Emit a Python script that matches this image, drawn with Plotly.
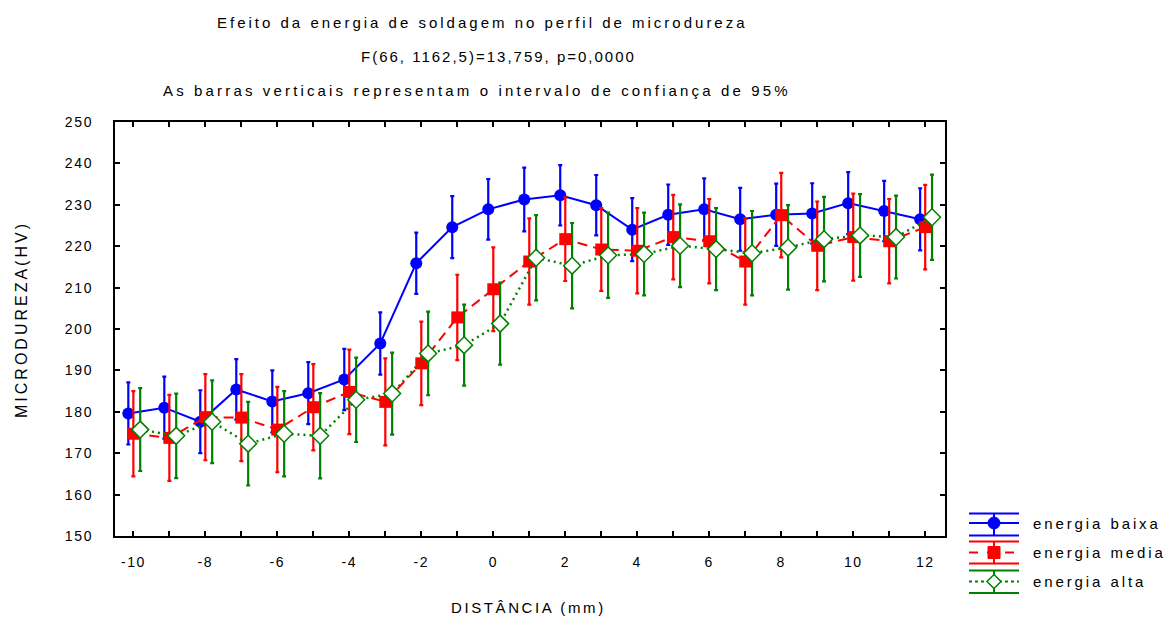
import plotly.graph_objects as go

# ---------------- data ----------------
distance = list(range(-10, 13))
series_names = ["energia baixa", "energia media", "energia alta"]
energia_baixa = [179.6, 181.0, 177.6, 185.4, 182.5, 184.5, 187.8, 196.5, 215.9, 224.6, 228.9, 231.3,
                 232.3, 229.9, 224.0, 227.6, 228.9, 226.5, 227.6, 227.9, 230.4, 228.5, 226.5]
baixa_ci = [7.5, 7.5, 7.6, 7.3, 7.5, 7.5, 7.4, 7.5, 7.4, 7.5, 7.3, 7.7,
            7.3, 7.3, 7.6, 7.3, 7.5, 7.6, 7.5, 7.3, 7.5, 7.3, 7.5]
energia_media = [174.7, 173.7, 178.7, 178.6, 175.7, 181.1, 184.8, 182.4, 191.7, 202.8, 209.6, 216.3,
                 221.7, 219.2, 218.9, 222.2, 221.2, 216.3, 227.5, 220.1, 222.2, 221.2, 224.6]
media_ci = [10.3, 10.4, 10.4, 10.5, 10.3, 10.4, 10.2, 10.5, 10.1, 10.3, 10.1, 10.4,
            10.1, 10.0, 10.3, 10.2, 10.2, 10.4, 10.2, 10.7, 10.5, 10.2, 10.2]
energia_alta = [175.7, 174.2, 177.6, 172.3, 174.7, 174.2, 182.9, 184.4, 194.1, 196.1, 201.3, 217.2,
                215.3, 217.8, 218.1, 220.1, 219.3, 218.3, 219.7, 221.7, 222.6, 222.2, 227.0]
alta_ci = [10.0, 10.2, 10.0, 10.1, 10.3, 10.3, 10.2, 9.9, 10.1, 9.8, 9.9, 10.3,
           10.3, 10.3, 10.0, 10.0, 9.9, 10.2, 10.2, 10.2, 10.0, 10.0, 10.3]
x_tick_vals = list(range(-10, 13, 2))
y_tick_vals = list(range(150, 251, 10))

# ---------------- style ----------------
FONT = "Liberation Sans, Arial, sans-serif"
W_FIG, H_FIG = 1165, 617
L, R, T, B = 115, 945, 122, 536
PW, PH = R - L, B - T
BLUE, RED, GREEN = "#0000FF", "#FF0000", "#008000"
dodge = [-0.14, 0.0, 0.19]


def spaced(txt, ls):
    return f'<span style="letter-spacing:{ls}px">{txt}</span>'


def px(xp):
    return (xp - L) / PW


def py(yp):
    return 1 - (yp - T) / PH


fig = go.Figure()

specs = [
    (energia_baixa, baixa_ci, BLUE, "solid", dict(symbol="circle", size=12, color=BLUE), 2),
    (energia_media, media_ci, RED, "10px,6px", dict(symbol="square", size=12, color=RED), 2),
    (energia_alta, alta_ci, GREEN, "2px,4px",
     dict(symbol="diamond", size=13, color="white", line=dict(color=GREEN, width=1.5)), 2.5),
]
for i, (vals, ci, col, dash, mk, lw) in enumerate(specs):
    fig.add_trace(go.Scatter(
        x=[d + dodge[i] for d in distance], y=vals, mode="lines+markers",
        name=series_names[i], showlegend=False,
        line=dict(color=col, width=lw, dash=dash), marker=mk,
        error_y=dict(type="data", array=ci, visible=True, color=col, thickness=2.2, width=2),
    ))

fig.update_xaxes(
    range=[-10.51, 12.55], tickmode="array", tickvals=x_tick_vals,
    ticktext=[spaced(str(v), 1.5) for v in x_tick_vals],
    ticks="inside", ticklen=5, tickwidth=2, tickcolor="black",
    minor=dict(dtick=1, tick0=0, ticks="inside", ticklen=5, tickwidth=2, tickcolor="black"),
    showline=True, linecolor="black", linewidth=2, mirror="ticks",
    showgrid=False, zeroline=False, tickfont=dict(family=FONT, size=14, color="black"),
    ticklabelstandoff=12,
)
fig.update_yaxes(
    range=[150, 250], tickmode="array", tickvals=y_tick_vals,
    ticktext=[spaced(str(v), 1.7) for v in y_tick_vals],
    ticks="inside", ticklen=5, tickwidth=2, tickcolor="black",
    showline=True, linecolor="black", linewidth=2, mirror="ticks",
    showgrid=False, zeroline=False, tickfont=dict(family=FONT, size=14, color="black"),
    ticklabelstandoff=17,
)

annotations = [
    dict(text=spaced("Efeito da energia de soldagem no perfil de microdureza", 3.0), x=px(482), y=py(22)),
    dict(text=spaced("F(66, 1162,5)=13,759, p=0,0000", 2.0), x=px(498), y=py(57)),
    dict(text=spaced("As barras verticais representam o intervalo de confiança de 95%", 3.15), x=px(477), y=py(90)),
    dict(text=spaced("DISTÂNCIA (mm)", 2.6), x=px(528), y=py(607)),
]
for a in annotations:
    fig.add_annotation(xref="paper", yref="paper", showarrow=False, xanchor="center", yanchor="middle",
                       font=dict(family=FONT, size=15, color="black"), **a)
fig.add_annotation(xref="paper", yref="paper", showarrow=False, textangle=-90,
                   x=px(21), y=py(320), xanchor="center", yanchor="middle",
                   text=spaced("MICRODUREZA(HV)", 3.0), font=dict(family=FONT, size=16, color="black"))

# ---------------- manual legend ----------------
lx0, lx1, lxc = 969, 1019, 994
rows = [(513.5, 523, 535.5), (541.5, 552.5, 563.5), (570.5, 581.5, 593)]
dashes = ["solid", "dash", "dot"]
cols = [BLUE, RED, GREEN]
shapes = []
for i, (yt, ym, yb) in enumerate(rows):
    c = cols[i]
    for yy in (yt, yb):
        shapes.append(dict(type="line", xref="paper", yref="paper", x0=px(lx0), x1=px(lx1), y0=py(yy), y1=py(yy),
                           line=dict(color=c, width=2)))
    shapes.append(dict(type="line", xref="paper", yref="paper", x0=px(lxc), x1=px(lxc), y0=py(yt), y1=py(yb),
                       line=dict(color=c, width=2)))
    shapes.append(dict(type="line", xref="paper", yref="paper", x0=px(lx0), x1=px(lx1), y0=py(ym), y1=py(ym),
                       line=dict(color=c, width=2, dash=dashes[i])))
    if i == 0:
        shapes.append(dict(type="circle", xref="paper", yref="paper", x0=px(lxc - 6), x1=px(lxc + 6),
                           y0=py(ym - 6), y1=py(ym + 6), fillcolor=c, line=dict(color=c, width=1)))
    elif i == 1:
        shapes.append(dict(type="rect", xref="paper", yref="paper", x0=px(lxc - 6), x1=px(lxc + 6),
                           y0=py(ym - 6), y1=py(ym + 6), fillcolor=c, line=dict(color=c, width=1)))
    else:
        p = (f"M {px(lxc)},{py(ym - 7)} L {px(lxc + 7)},{py(ym)} L {px(lxc)},{py(ym + 7)} "
             f"L {px(lxc - 7)},{py(ym)} Z")
        shapes.append(dict(type="path", xref="paper", yref="paper", path=p, fillcolor="white",
                           line=dict(color=c, width=1.5)))
    fig.add_annotation(xref="paper", yref="paper", showarrow=False, xanchor="left", yanchor="middle",
                       x=px(1031), y=py(ym), text=spaced(series_names[i], 2.9),
                       font=dict(family=FONT, size=15, color="black"))
fig.update_layout(shapes=shapes)

fig.update_layout(
    width=W_FIG, height=H_FIG, autosize=False,
    margin=dict(l=L, r=W_FIG - R, t=T, b=H_FIG - B),
    paper_bgcolor="white", plot_bgcolor="white",
    font=dict(family=FONT, color="black"),
)
fig.write_html("out.html")
